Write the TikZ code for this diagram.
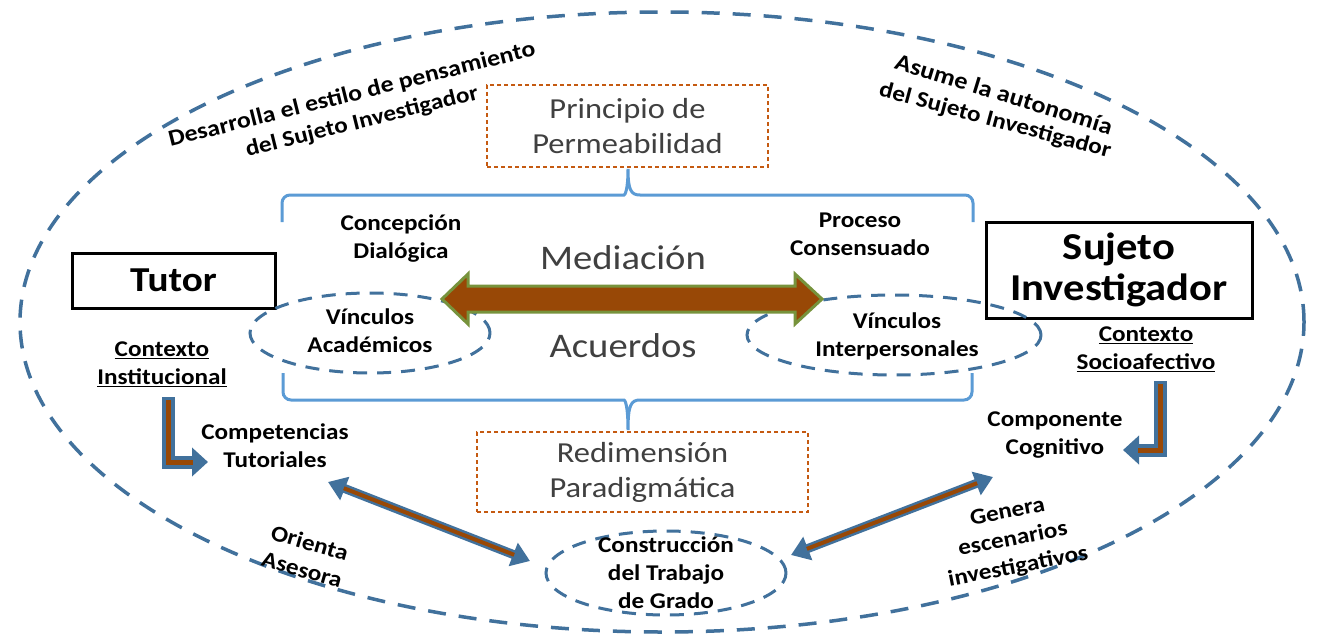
\documentclass[tikz,border=0pt]{standalone}
\usepackage{fontspec}
\setmainfont{Carlito}[FakeStretch=1.12]
\usetikzlibrary{shapes.geometric,arrows.meta}
\definecolor{dblue}{RGB}{65,113,156}
\definecolor{lblue}{RGB}{91,155,213}
\definecolor{orng}{RGB}{197,90,17}
\definecolor{brwn}{RGB}{152,72,6}
\definecolor{grn}{RGB}{119,147,60}
\definecolor{gtext}{RGB}{64,64,64}
\begin{document}
\begin{tikzpicture}[x=1pt,y=-1pt,
 outerdash/.style={draw=dblue, line width=3.5pt, dash pattern=on 18pt off 13pt},
 oval/.style={ellipse, draw=dblue, line width=3pt, dash pattern=on 14pt off 10pt, inner sep=0pt},
 obox/.style={draw=orng, line width=1.3pt, dash pattern=on 4pt off 3pt},
 bigtxt/.style={text=gtext, font=\fontsize{29}{35}\selectfont, align=center},
 medtxt/.style={text=gtext, font=\fontsize{34.5}{38}\selectfont, inner sep=0pt},
 lbl/.style={font=\bfseries\fontsize{22.5}{28}\selectfont, align=center, inner sep=0pt},
 curv/.style={font=\bfseries\fontsize{22.5}{28}\selectfont, inner sep=0pt, align=center},
 actor/.style={draw=black, line width=3pt, align=center},
 brkt/.style={draw=lblue, line width=3pt},
 bigarrow/.style={fill=brwn, draw=grn, line width=3pt, line join=miter},
 elbowout/.style={draw=dblue, line width=13pt, line join=miter, -{Triangle[length=16pt,width=28pt]}},
 elbowin/.style={draw=brwn, line width=5pt, line join=miter},
 diagout/.style={draw=dblue, line width=9pt, {Triangle[length=18pt,width=24pt]}-{Triangle[length=18pt,width=24pt]}},
 diagin/.style={draw=brwn, line width=4pt, shorten <=17pt, shorten >=17pt}
]
\useasboundingbox (0,0) rectangle (1325,634);
\fill[white] (0,0) rectangle (1325,634);

% outer ellipse
\node[ellipse, outerdash, minimum width=1284pt, minimum height=620pt] (outer) at (662,322) {};

% curved texts
\node[curv, rotate=14, font=\bfseries\fontsize{23}{28}\selectfont] (t1) at (352,95) {Desarrolla el estilo de pensamiento};
\node[curv, rotate=14] (t2) at (362,122) {del Sujeto Investigador};
\node[curv, rotate=-17, font=\bfseries\fontsize{23.5}{28}\selectfont] (t3) at (1004,94) {Asume la autonomía};
\node[curv, rotate=-15] (t4) at (995,121) {del Sujeto Investigador};
\node[curv, rotate=-16] (t5) at (306,556) {Orienta\\Asesora};
\node[curv, rotate=11] (t6) at (1013,540) {Genera\\escenarios\\investigativos};

% orange boxes
\node[obox, bigtxt, minimum width=281pt, minimum height=82pt] (perm) at (627.5,126) {Principio de\\Permeabilidad};
\node[obox, bigtxt, minimum width=331pt, minimum height=80pt] (redim) at (642.5,472) {Redimensión\\Paradigmática};

% brackets
\draw[brkt] (282,222) [rounded corners=8pt] -- (282,195) -- (616,195) [sharp corners]
  .. controls (625,195) and (628,190) .. (628,169)
  .. controls (628,190) and (631,195) .. (640,195) [rounded corners=8pt] -- (973,195) -- (973,222);
\draw[brkt] (283,373) [rounded corners=8pt] -- (283,400) -- (616,400) [sharp corners]
  .. controls (625,400) and (628,405) .. (628,430)
  .. controls (628,405) and (631,400) .. (640,400) [rounded corners=8pt] -- (972,400) -- (972,373);

% actors
\node[actor, font=\bfseries\fontsize{35}{40}\selectfont, minimum width=203pt, minimum height=55pt] (tutor) at (173.5,280.5) {Tutor};
\node[actor, font=\bfseries\fontsize{38}{41}\selectfont, minimum width=266pt, minimum height=96pt, inner sep=0pt] (sujeto) at (1119,270) {Sujeto\\Investigador};

% small ellipses
\node[oval, minimum width=240pt, minimum height=80pt] (va) at (370,333) {};
\node[oval, minimum width=294pt, minimum height=80pt] (vi) at (894,335) {};
\node[oval, minimum width=240pt, minimum height=84pt] (ctg) at (666,573) {};

% labels
\node[lbl] (cd) at (401,239) {Concepción\\Dialógica};
\node[lbl] (vat) at (370,331) {Vínculos\\Académicos};
\node[lbl] (pc) at (860,234) {Proceso\\Consensuado};
\node[lbl] (vit) at (897,336) {Vínculos\\Interpersonales};
\node[lbl] (ctt) at (275,446) {Competencias\\Tutoriales};
\node[lbl] (cc) at (1055,435) {Componente\\Cognitivo};
\node[lbl] (ci) at (162,364) {\underline{Contexto}\\\underline{Institucional}};
\node[lbl] (cs) at (1146,349) {\underline{Contexto}\\\underline{Socioafectivo}};
\node[lbl] (ctgt) at (666,573) {Construcción\\del Trabajo\\de Grado};

\node[medtxt] (med) at (623,258) {Mediación};
\node[medtxt] (acu) at (623,346) {Acuerdos};

% big double arrow
\draw[bigarrow] (442,299) -- (468,274) -- (468,286) -- (795,286) -- (795,274) -- (822,299)
  -- (795,324) -- (795,312) -- (468,312) -- (468,324) -- cycle;

% elbow arrows
\coordinate (e1s) at (168,397);
\coordinate (e1e) at (208,462);
\coordinate (e1b) at (193,462);
\coordinate (e1i) at (168,400);
\draw[elbowout] (e1s) |- (e1e);
\draw[elbowin] (e1i) |- (e1b);
\coordinate (e2s) at (1160,381);
\coordinate (e2e) at (1123,450);
\coordinate (e2b) at (1138,450);
\coordinate (e2i) at (1160,384);
\draw[elbowout] (e2s) |- (e2e);
\draw[elbowin] (e2i) |- (e2b);

% diagonal arrows
\coordinate (d1a) at (328,482);
\coordinate (d1b) at (530,561);
\coordinate (d2a) at (791,555);
\coordinate (d2b) at (993,477);
\draw[diagout] (d1a) -- (d1b);
\draw[diagin] (d1a) -- (d1b);
\draw[diagout] (d2a) -- (d2b);
\draw[diagin] (d2a) -- (d2b);
\end{tikzpicture}
\end{document}
